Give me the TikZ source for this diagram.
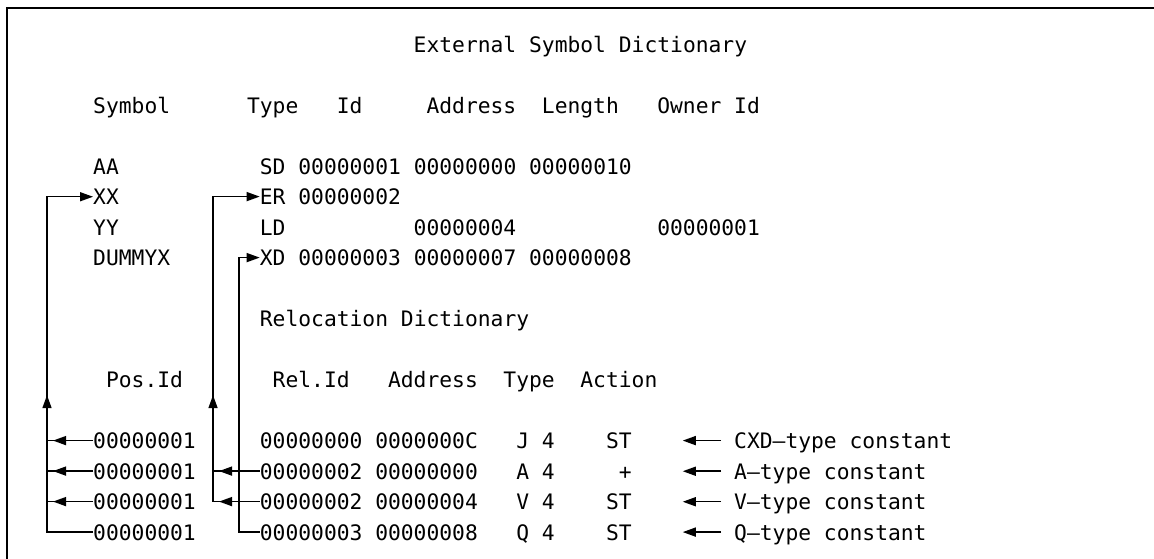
\documentclass[tikz,border=0pt]{standalone}
\usepackage{fontspec}
\setmonofont{DejaVu Sans Mono}
\usetikzlibrary{arrows.meta}
\tikzset{txt/.style={
    anchor=base west,
    inner sep=0pt,
    text depth=0pt,
    font=\ttfamily\fontsize{21.3}{24}\selectfont
  },
  link/.style={line width=1.5pt},
  linkarr/.style={link,-{Triangle[length=13pt,width=9pt]}},
  notearr/.style={linkarr,shorten <=13pt},
  frame/.style={line width=2pt},
}

\begin{document}
\begin{tikzpicture}[x=12.82pt,y={(0pt,-30.5pt)}]
  \useasboundingbox (-0.257,-1.705) rectangle (89.76,16.623);
  \draw[frame] (89.76,-1.459) -- (0.328,-1.459) -- (0.328,16.623);

  % external symbol dictionary
  \node[txt] (esd) at (32,0) {External Symbol Dictionary};
  \node[txt] (hsym) at (7,2) {Symbol};
  \node[txt] (htype) at (19,2) {Type};
  \node[txt] (hid) at (26,2) {Id};
  \node[txt] (hadr) at (33,2) {Address};
  \node[txt] (hlen) at (42,2) {Length};
  \node[txt] (hown) at (51,2) {Owner Id};
  \node[txt] (aa) at (7,4) {AA};
  \node[txt] (sd) at (20,4) {SD 00000001 00000000 00000010};
  \node[txt] (xx) at (7,5) {XX};
  \node[txt] (er) at (20,5) {ER 00000002};
  \node[txt] (yy) at (7,6) {YY};
  \node[txt] (ld) at (20,6) {LD};
  \node[txt] (ldadr) at (32,6) {00000004};
  \node[txt] (ldown) at (51,6) {00000001};
  \node[txt] (dummyx) at (7,7) {DUMMYX};
  \node[txt] (xd) at (20,7) {XD 00000003 00000007 00000008};

  % relocation dictionary
  \node[txt] (rld) at (20,9) {Relocation Dictionary};
  \node[txt] (hpos) at (8,11) {Pos.Id};
  \node[txt] (hrel) at (21,11) {Rel.Id};
  \node[txt] (hradr) at (30,11) {Address};
  \node[txt] (hrtype) at (39,11) {Type};
  \node[txt] (hact) at (45,11) {Action};

  \coordinate (busA) at (3.41,0);
  \coordinate (busB) at (16.36,0);
  \coordinate (busC) at (18.39,0);
  \coordinate (tipcol) at (53,0);

  \foreach \n/\rid/\adr/\ty/\act/\ac/\what in {
      13/00000000/0000000C/J/ST/47/CXD,
      14/00000002/00000000/A/+/48/A,
      15/00000002/00000004/V/ST/47/V,
      16/00000003/00000008/Q/ST/47/Q} {
    \node[txt] (pos\n) at (7,\n) {00000001};
    \node[txt] (rel\n) at (20,\n) {\rid};
    \node[txt] (adr\n) at (29,\n) {\adr};
    \node[txt] (typ\n) at (40,\n) {\ty\ 4};
    \node[txt] (act\n) at (\ac,\n) {\act};
    \node[txt] (note\n) at (57,\n) {\what—type constant};
    \draw[notearr] (note\n.west) -- (note\n.west -| tipcol);
  }

  % Pos.Id -> Symbol
  \coordinate (upA) at (3.41,11.25);
  \coordinate (upAb) at (3.41,11.7);
  \draw[linkarr] (pos16.west) -- (pos16.west -| busA) -- (xx.west -| busA) -- (xx.west);
  \draw[linkarr] (upAb) -- (upA);
  \foreach \n in {13,14,15} {
    \draw[link] (pos\n.west) -- (pos\n.west -| busA);
    \draw[linkarr,shorten >=6pt] (pos\n.west) -- (pos\n.west -| busA);
  }

  % Rel.Id -> Type
  \coordinate (upB) at (16.36,11.25);
  \coordinate (upBb) at (16.36,11.7);
  \draw[linkarr] (rel15.west) -- (rel15.west -| busB) -- (er.west -| busB) -- (er.west);
  \draw[linkarr] (upBb) -- (upB);
  \draw[link] (rel14.west) -- (rel14.west -| busB);
  \foreach \n in {14,15}
    \draw[linkarr,shorten >=6pt] (rel\n.west) -- (rel\n.west -| busB);
  \draw[linkarr] (rel16.west) -- (rel16.west -| busC) -- (xd.west -| busC) -- (xd.west);
\end{tikzpicture}
\end{document}
